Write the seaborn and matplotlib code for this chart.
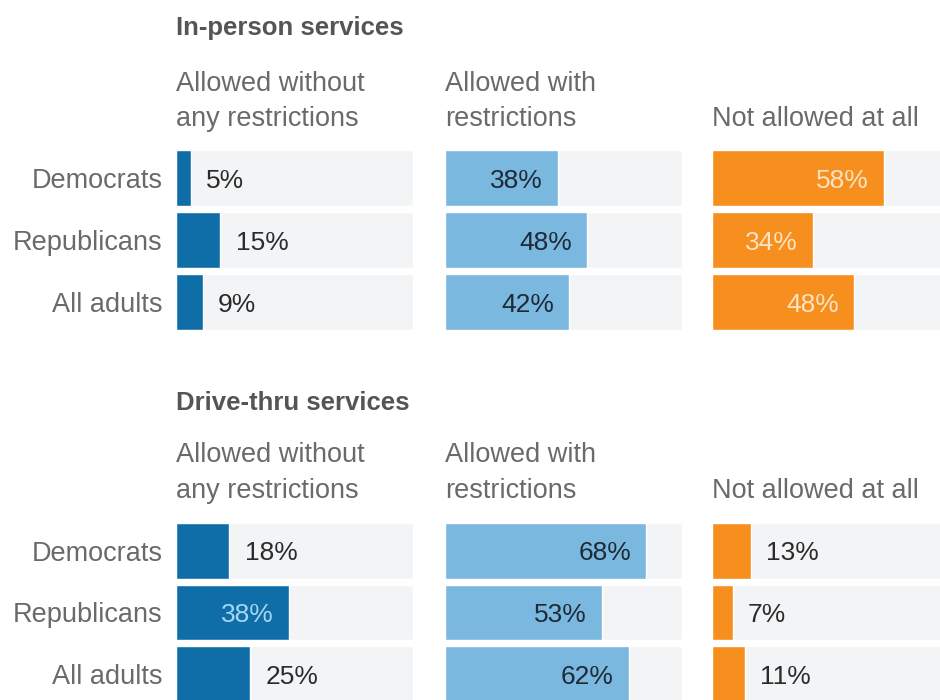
import matplotlib
matplotlib.use("Agg")
import matplotlib.pyplot as plt
import seaborn as sns
import pandas as pd

# data
groups = ["Democrats", "Republicans", "All adults"]
in_person_without = [5, 15, 9]
in_person_with = [38, 48, 42]
in_person_not = [58, 34, 48]
drive_without = [18, 38, 25]
drive_with = [68, 53, 62]
drive_not = [13, 7, 11]

panel_titles = ["In-person services", "Drive-thru services"]
col_headers = [("Allowed without", "any restrictions"),
               ("Allowed with", "restrictions"),
               ("", "Not allowed at all")]

bar_colors = ["#0f6ea8", "#7ab8e0", "#f78f1e"]
inside_text = ["#a6d5f3", "#1e2a36", "#fde3c4"]
outside_text = "#2b2b2b"
track_color = "#f3f4f6"
label_grey = "#6a6a6a"

sns.set_theme(style="white")
plt.rcParams["font.family"] = ["Liberation Sans", "DejaVu Sans"]

W, H = 940, 700
fig = plt.figure(figsize=(9.4, 7), dpi=100)

panels = [
    [in_person_without, in_person_with, in_person_not],
    [drive_without, drive_with, drive_not],
]

col_left = [176, 445, 712]
col_width = 237
panel_top = [147, 520]
panel_height = [186, 185]
title_base = [35, 410]
head_base = [(91, 126), (462, 498)]
xmax = 80


def fx(px):
    return px / W


def fy(py):
    return 1 - py / H


for p, series in enumerate(panels):
    fig.text(fx(col_left[0]), fy(title_base[p]), panel_titles[p],
             fontsize=18.5, fontweight="bold", color="#555555", va="baseline")
    for c, vals in enumerate(series):
        line1, line2 = col_headers[c]
        fig.text(fx(col_left[c]), fy(head_base[p][0]), line1,
                 fontsize=19.5, color=label_grey, va="baseline")
        fig.text(fx(col_left[c]), fy(head_base[p][1]), line2,
                 fontsize=19.5, color=label_grey, va="baseline")

        top = panel_top[p]
        hgt = panel_height[p]
        ax = fig.add_axes([fx(col_left[c]), fy(top + hgt),
                           col_width / W, hgt / H])
        df = pd.DataFrame({"group": groups, "value": vals,
                           "track": [xmax] * len(groups)})
        # grey track behind each bar, then the value bar
        sns.barplot(data=df, x="track", y="group", orient="h",
                    color=track_color, width=0.9, ax=ax, saturation=1)
        sns.barplot(data=df, x="value", y="group", orient="h",
                    color=bar_colors[c], width=0.9, ax=ax, saturation=1)
        ax.set_xlim(0, xmax)
        ax.set_ylim(2.5, -0.5)
        ax.set_xlabel("")
        ax.set_ylabel("")
        ax.set_xticks([])
        for s in ax.spines.values():
            s.set_visible(False)
        if c == 0:
            ax.tick_params(axis="y", length=0, pad=9.5, labelsize=19.5,
                           labelcolor=label_grey)
        else:
            ax.set_yticks([])

        for i, v in enumerate(vals):
            if v >= 30:
                ax.annotate(f"{v}%", (v, i), xytext=(-11, 0),
                            textcoords="offset points", ha="right",
                            va="center_baseline", fontsize=19,
                            color=inside_text[c])
            else:
                ax.annotate(f"{v}%", (v, i), xytext=(11, 0),
                            textcoords="offset points", ha="left",
                            va="center_baseline", fontsize=19,
                            color=outside_text)

fig.savefig("out.png", dpi=100)
